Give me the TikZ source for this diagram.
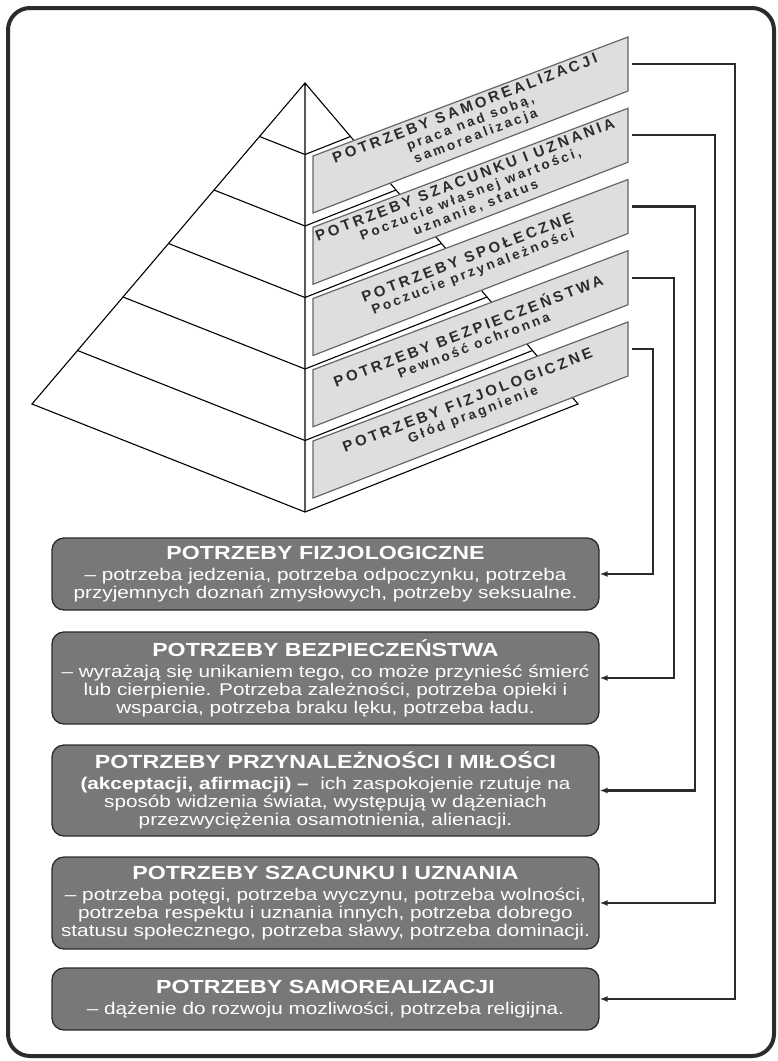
\documentclass[tikz,border=0pt]{standalone}
\usepackage{fontspec}
\usetikzlibrary{calc,arrows.meta}
\setmainfont{Liberation Sans}
\newfontfamily\boxfont[FakeStretch=1.22]{Liberation Sans}
\newfontfamily\banfont[LetterSpace=20]{Liberation Sans}
\definecolor{boxgray}{HTML}{787878}
\definecolor{bangray}{HTML}{DEDEDE}
\definecolor{ink}{HTML}{2B2B2B}
\def\ttl#1{{\bfseries\fontsize{19}{20}\selectfont #1}\\[3pt]}
\def\big#1{{\fontsize{15}{15}\selectfont #1}}

\begin{document}
\begin{tikzpicture}[x=1pt,y=-1pt,
  bantxt/.style={rotate=21, align=center, text=ink, inner sep=0,
    font=\banfont\bfseries\fontsize{13.5}{14.5}\selectfont},
  needbox/.style={draw=ink, line width=1.3, fill=boxgray, rounded corners=12,
    minimum width=547, minimum height=#1, text=white, align=center, inner sep=0,
    font=\boxfont\fontsize{17}{18}\selectfont},
  conn/.style={draw=ink, line width=2.2, -{Latex[length=8,width=6]}}]
\useasboundingbox (0,0) rectangle (778,1061);
\draw[ink, line width=4, rounded corners=22] (8,8) rectangle (774,1056);

% piramida
\coordinate (apex) at (305,83);
\coordinate (lc) at (32,404);
\coordinate (rc) at (578,404);
\coordinate (bc) at (305,512);
\draw[line width=1.1] (apex) -- (lc) -- (bc) -- (rc) -- cycle (apex) -- (bc);
\foreach \k in {1,...,5}{
\draw[line width=1.1] ($(apex)!\k/6!(lc)$) -- ($(apex)!\k/6!(bc)$) -- ($(apex)!\k/6!(rc)$);
}

% pasy z opisami
\foreach \i/\txt in {
  0/{\big{POTRZEBY SAMOREALIZACJI}\\praca nad sobą,\\samorealizacja},
  1/{\big{POTRZEBY SZACUNKU I UZNANIA}\\Poczucie własnej wartości,\\uznanie, status},
  2/{\big{POTRZEBY SPOŁECZNE}\\Poczucie przynależności},
  3/{\big{POTRZEBY BEZPIECZEŃSTWA}\\Pewność ochronna},
  4/{\big{POTRZEBY FIZJOLOGICZNE}\\Głód pragnienie}}{
\pgfmathsetmacro\yR{37+71.25*\i}
\filldraw[fill=bangray, draw=black!60, line width=1.2]
  (313,{\yR+119}) -- (628,\yR) -- (628,{\yR+54}) -- (313,{\yR+176}) -- cycle;
\node[bantxt] (ban\i) at (470.5,{\yR+86}) {\txt};
\coordinate (br\i) at (632,{\yR+27});
}

% opisy potrzeb
\node[needbox=72] (fizj) at (325.5,574) {\ttl{POTRZEBY FIZJOLOGICZNE}
  – potrzeba jedzenia, potrzeba odpoczynku, potrzeba\\
  przyjemnych doznań zmysłowych, potrzeby seksualne.};
\node[needbox=92] (bezp) at (325.5,678) {\ttl{POTRZEBY BEZPIECZEŃSTWA}
  – wyrażają się unikaniem tego, co może przynieść śmierć\\
  lub cierpienie. Potrzeba zależności, potrzeba opieki i\\
  wsparcia, potrzeba braku lęku, potrzeba ładu.};
\node[needbox=91] (przyn) at (325.5,790.5) {\ttl{POTRZEBY PRZYNALEŻNOŚCI I MIŁOŚCI}
  {\bfseries (akceptacji, afirmacji) –}\ \ ich zaspokojenie rzutuje na\\
  sposób widzenia świata, występują w dążeniach\\
  przezwyciężenia osamotnienia, alienacji.};
\node[needbox=92] (szac) at (325.5,903) {\ttl{POTRZEBY SZACUNKU I UZNANIA}
  – potrzeba potęgi, potrzeba wyczynu, potrzeba wolności,\\
  potrzeba respektu i uznania innych, potrzeba dobrego\\
  statusu społecznego, potrzeba sławy, potrzeba dominacji.};
\node[needbox=62] (samo) at (325.5,999) {\ttl{POTRZEBY SAMOREALIZACJI}
  – dążenie do rozwoju mozliwości, potrzeba religijna.};

% polaczenia
\foreach \i/\need/\tx in {0/samo/735, 1/szac/715, 2/przyn/695, 3/bezp/674, 4/fizj/653}{
\draw[conn] (br\i) -- ++({\tx-632},0) |- (\need.east);
}
\end{tikzpicture}
\end{document}
